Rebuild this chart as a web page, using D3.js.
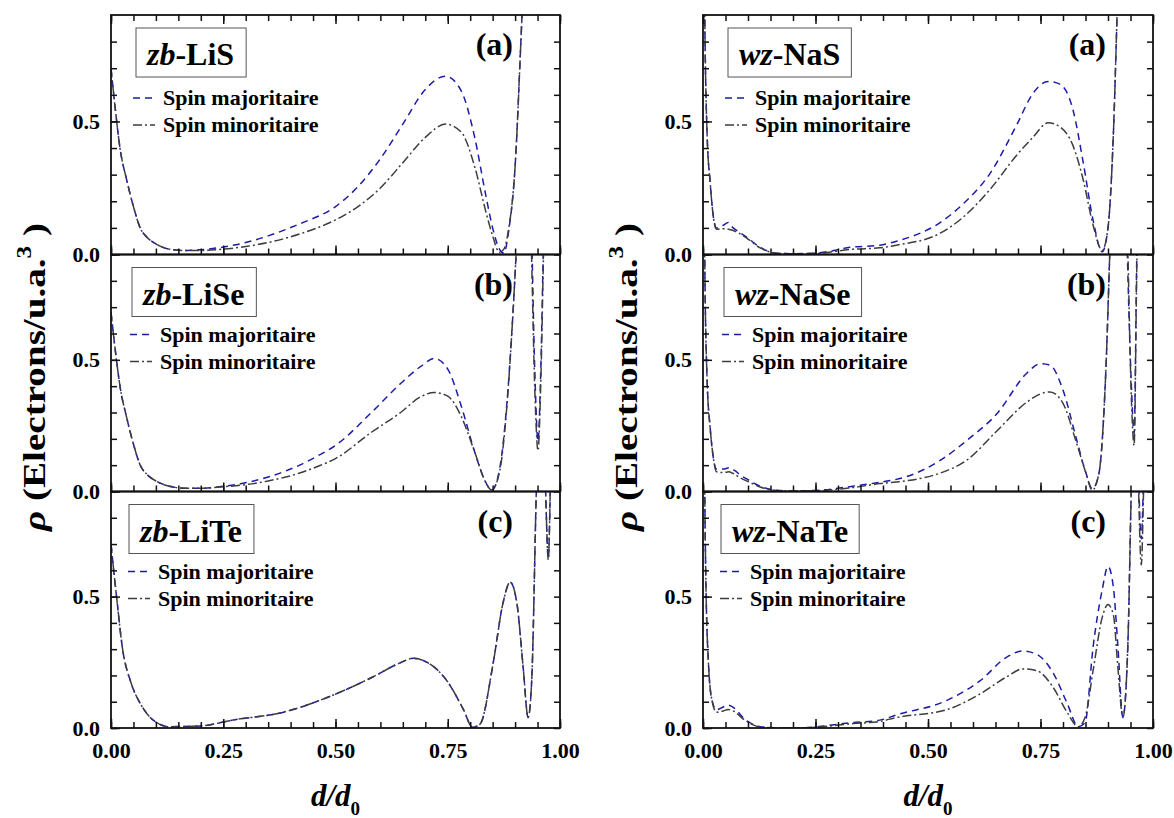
<!DOCTYPE html>
<html>
<head>
<meta charset="utf-8">
<script src="https://cdn.jsdelivr.net/npm/d3@7"></script>
<style>
  body { margin: 0; background: #fff; }
  text { font-family: "Liberation Serif", "Times New Roman", serif; font-weight: bold; }
</style>
</head>
<body>
<svg id="chart"></svg>
<script>
// ---- data ----
const xMinorTicks = [0, 0.05, 0.1, 0.15, 0.2, 0.25, 0.3, 0.35, 0.4, 0.45, 0.5, 0.55, 0.6, 0.65, 0.7, 0.75, 0.8, 0.85, 0.9, 0.95, 1.0];
const xMajorTicks = [0, 0.25, 0.5, 0.75, 1.0];
const yMinorTicks = [0, 0.1, 0.2, 0.3, 0.4, 0.5, 0.6, 0.7, 0.8];
const yMajorTicks = [0, 0.5];

const compounds = [["zb", "-LiS"], ["zb", "-LiSe"], ["zb", "-LiTe"], ["wz", "-NaS"], ["wz", "-NaSe"], ["wz", "-NaTe"]];
const panelLetters = ["(a)", "(b)", "(c)", "(a)", "(b)", "(c)"];
const seriesNames = ["Spin majoritaire", "Spin minoritaire"];

// zb-LiS
const lisX   = [0, 0.01, 0.02, 0.035, 0.05, 0.065, 0.08, 0.1, 0.13, 0.17, 0.2, 0.25, 0.3, 0.35, 0.42, 0.5, 0.55, 0.6, 0.65, 0.7, 0.745, 0.78, 0.81, 0.835, 0.85, 0.865, 0.875, 0.885, 0.9, 0.915, 0.93];
const lisMaj = [0.70, 0.54, 0.40, 0.28, 0.18, 0.10, 0.065, 0.04, 0.02, 0.015, 0.018, 0.028, 0.045, 0.07, 0.115, 0.18, 0.255, 0.36, 0.49, 0.62, 0.67, 0.615, 0.44, 0.22, 0.10, 0.02, 0.005, 0.08, 0.33, 0.88, 1.4];
const lisMin = [0.70, 0.54, 0.40, 0.28, 0.18, 0.10, 0.065, 0.04, 0.02, 0.015, 0.015, 0.02, 0.03, 0.045, 0.077, 0.13, 0.18, 0.25, 0.345, 0.44, 0.49, 0.46, 0.33, 0.16, 0.07, 0.008, 0.02, 0.09, 0.33, 0.88, 1.4];
// zb-LiSe
const liseX   = [0, 0.01, 0.02, 0.035, 0.05, 0.065, 0.08, 0.1, 0.13, 0.17, 0.2, 0.25, 0.3, 0.35, 0.42, 0.46, 0.5, 0.58, 0.645, 0.69, 0.72, 0.75, 0.78, 0.81, 0.833, 0.848, 0.866, 0.881, 0.896, 0.908, 0.92, 0.935, 0.944, 0.951, 0.957, 0.964, 0.975];
const liseMaj = [0.68, 0.53, 0.40, 0.28, 0.18, 0.10, 0.065, 0.04, 0.02, 0.012, 0.012, 0.02, 0.033, 0.055, 0.1, 0.135, 0.175, 0.30, 0.41, 0.475, 0.505, 0.465, 0.325, 0.15, 0.04, 0.005, 0.09, 0.32, 0.70, 1.1, 1.5, 1.1, 0.45, 0.19, 0.45, 1.0, 1.5];
const liseMin = [0.68, 0.53, 0.40, 0.28, 0.18, 0.10, 0.065, 0.04, 0.02, 0.012, 0.012, 0.018, 0.026, 0.04, 0.07, 0.095, 0.125, 0.225, 0.30, 0.36, 0.376, 0.362, 0.285, 0.15, 0.04, 0.006, 0.08, 0.31, 0.70, 1.1, 1.5, 1.0, 0.38, 0.155, 0.40, 0.95, 1.5];
// zb-LiTe
const liteX   = [0, 0.006, 0.013, 0.025, 0.045, 0.065, 0.094, 0.13, 0.2, 0.27, 0.384, 0.48, 0.584, 0.64, 0.673, 0.704, 0.748, 0.785, 0.805, 0.822, 0.851, 0.873, 0.889, 0.904, 0.918, 0.929, 0.937, 0.948, 0.958, 0.967, 0.974, 0.979, 0.986];
const liteMaj = [0.70, 0.60, 0.49, 0.31, 0.17, 0.094, 0.03, 0.005, 0.008, 0.03, 0.06, 0.115, 0.195, 0.245, 0.265, 0.25, 0.18, 0.07, 0.003, 0.015, 0.245, 0.475, 0.555, 0.475, 0.23, 0.04, 0.18, 0.95, 1.4, 0.95, 0.645, 0.95, 1.4];
const liteMin = [0.70, 0.60, 0.49, 0.31, 0.17, 0.094, 0.03, 0.005, 0.008, 0.03, 0.06, 0.115, 0.195, 0.245, 0.265, 0.25, 0.18, 0.07, 0.003, 0.015, 0.245, 0.475, 0.555, 0.475, 0.23, 0.04, 0.18, 0.95, 1.4, 0.95, 0.64, 0.95, 1.4];
// wz-NaS
const nasX   = [0.002, 0.005, 0.009, 0.016, 0.022, 0.03, 0.045, 0.056, 0.067, 0.08, 0.097, 0.127, 0.163, 0.2, 0.25, 0.333, 0.393, 0.43, 0.527, 0.578, 0.638, 0.698, 0.733, 0.767, 0.793, 0.822, 0.845, 0.867, 0.887, 0.90, 0.912, 0.922, 0.935];
const nasMaj = [1.2, 0.75, 0.457, 0.27, 0.155, 0.10, 0.11, 0.12, 0.10, 0.085, 0.065, 0.027, 0.005, 0.003, 0.005, 0.028, 0.035, 0.05, 0.12, 0.19, 0.305, 0.49, 0.605, 0.65, 0.64, 0.545, 0.345, 0.128, 0.01, 0.1, 0.455, 1.0, 1.6];
const nasMin = [1.2, 0.75, 0.457, 0.27, 0.155, 0.095, 0.097, 0.095, 0.09, 0.08, 0.062, 0.025, 0.005, 0.003, 0.004, 0.02, 0.025, 0.035, 0.08, 0.14, 0.245, 0.375, 0.44, 0.495, 0.48, 0.41, 0.28, 0.11, 0.015, 0.1, 0.455, 1.0, 1.6];
// wz-NaSe
const naseX   = [0.002, 0.005, 0.009, 0.016, 0.022, 0.03, 0.045, 0.058, 0.07, 0.085, 0.1, 0.127, 0.163, 0.2, 0.25, 0.333, 0.393, 0.45, 0.527, 0.587, 0.653, 0.72, 0.749, 0.771, 0.80, 0.829, 0.851, 0.865, 0.88, 0.895, 0.906, 0.92, 0.935, 0.943, 0.952, 0.958, 0.964, 0.972];
const naseMaj = [1.2, 0.72, 0.43, 0.24, 0.14, 0.085, 0.085, 0.09, 0.08, 0.06, 0.045, 0.02, 0.005, 0.002, 0.004, 0.02, 0.035, 0.055, 0.118, 0.195, 0.295, 0.45, 0.485, 0.48, 0.385, 0.205, 0.07, 0.01, 0.07, 0.45, 1.0, 1.5, 1.5, 0.9, 0.4, 0.22, 0.9, 1.5];
const naseMin = [1.2, 0.72, 0.43, 0.24, 0.14, 0.075, 0.072, 0.075, 0.065, 0.05, 0.038, 0.017, 0.004, 0.002, 0.003, 0.015, 0.03, 0.04, 0.07, 0.12, 0.23, 0.34, 0.37, 0.378, 0.335, 0.19, 0.07, 0.005, 0.07, 0.45, 1.0, 1.5, 1.5, 1.0, 0.35, 0.175, 0.85, 1.5];
// wz-NaTe
const nateX   = [0.002, 0.006, 0.012, 0.02, 0.03, 0.045, 0.056, 0.07, 0.089, 0.11, 0.127, 0.16, 0.215, 0.27, 0.327, 0.393, 0.43, 0.542, 0.616, 0.675, 0.711, 0.742, 0.778, 0.809, 0.834, 0.849, 0.867, 0.887, 0.90, 0.912, 0.922, 0.933, 0.944, 0.953, 0.962, 0.968, 0.974, 0.979, 0.985];
const nateMaj = [1.2, 0.6, 0.25, 0.105, 0.07, 0.08, 0.087, 0.075, 0.04, 0.015, 0.005, 0.001, 0.0, 0.008, 0.02, 0.03, 0.05, 0.105, 0.18, 0.27, 0.293, 0.28, 0.21, 0.095, 0.005, 0.02, 0.31, 0.525, 0.615, 0.535, 0.31, 0.04, 0.31, 1.0, 1.4, 0.95, 0.72, 0.95, 1.4];
const nateMin = [1.2, 0.6, 0.25, 0.105, 0.06, 0.065, 0.07, 0.062, 0.035, 0.013, 0.004, 0.001, 0.0, 0.006, 0.016, 0.025, 0.04, 0.07, 0.13, 0.195, 0.225, 0.218, 0.155, 0.06, 0.005, 0.04, 0.22, 0.42, 0.47, 0.43, 0.23, 0.04, 0.31, 1.0, 1.4, 0.9, 0.62, 0.9, 1.4];

const panelX   = [lisX, liseX, liteX, nasX, naseX, nateX];
const panelMaj = [lisMaj, liseMaj, liteMaj, nasMaj, naseMaj, nateMaj];
const panelMin = [lisMin, liseMin, liteMin, nasMin, naseMin, nateMin];

// ---- layout ----
const W = 1174, H = 818;
const colX = [[111, 560], [703, 1153]];
const rowY = [15, 254.5, 491.5, 728];
const boxOffset = [25, 21, 18];     // title box left offset, by row
const legendOffset = [22, 19, 17];  // legend sample left offset, by row
const legendTop = [83, 80, 80];
const majColor = "#1c1ca8", minColor = "#3d3d3d";
const majDash = "7,5", minDash = "9,3,2,3";

const svg = d3.select("#chart").attr("width", W).attr("height", H)
    .style("background", "#fff");

const fixFont = g => g.attr("font-family", null).attr("font-size", null);
const tickStyle = sel => sel.call(s => s.select(".domain").remove())
    .call(s => s.selectAll(".tick line").attr("stroke", "#111").attr("stroke-width", 1.5));

for (let c = 0; c < 2; c++) {
    for (let r = 0; r < 3; r++) {
        const k = c * 3 + r;
        const [x0, x1] = colX[c];
        const yTop = rowY[r], yBot = rowY[r + 1];

        const x = d3.scaleLinear().domain([0, 1]).range([x0, x1]);
        const y = d3.scaleLinear().domain([0, 0.9]).range([yBot, yTop]);

        const g = svg.append("g");

        // clip
        const clipId = "clip" + k;
        svg.append("clipPath").attr("id", clipId)
            .append("rect").attr("x", x0).attr("y", yTop).attr("width", x1 - x0).attr("height", yBot - yTop);

        const line = d3.line()
            .x(d => x(d[0]))
            .y(d => y(d[1]))
            .curve(d3.curveMonotoneX);

        const xs = panelX[k];
        const majPts = xs.map((v, i) => [v, panelMaj[k][i]]);
        const minPts = xs.map((v, i) => [v, panelMin[k][i]]);

        const curves = g.append("g").attr("clip-path", `url(#${clipId})`);
        curves.append("path").datum(majPts)
            .attr("d", line)
            .attr("fill", "none")
            .attr("stroke", majColor)
            .attr("stroke-width", 1.5)
            .attr("stroke-dasharray", majDash);
        curves.append("path").datum(minPts)
            .attr("d", line)
            .attr("fill", "none")
            .attr("stroke", minColor)
            .attr("stroke-width", 1.5)
            .attr("stroke-dasharray", minDash);

        // ticks: bottom edge (pointing up)
        g.append("g").attr("transform", `translate(0,${yBot})`)
            .call(d3.axisTop(x).tickValues(xMinorTicks).tickSize(6).tickFormat(""))
            .call(tickStyle);
        g.append("g").attr("transform", `translate(0,${yBot})`)
            .call(d3.axisTop(x).tickValues(xMajorTicks).tickSize(9).tickFormat(""))
            .call(tickStyle);
        if (r === 0) {
            g.append("g").attr("transform", `translate(0,${yTop})`)
                .call(d3.axisBottom(x).tickValues(xMinorTicks).tickSize(6).tickFormat(""))
                .call(tickStyle);
            g.append("g").attr("transform", `translate(0,${yTop})`)
                .call(d3.axisBottom(x).tickValues(xMajorTicks).tickSize(9).tickFormat(""))
                .call(tickStyle);
        }
        // left and right edges (pointing inward)
        g.append("g").attr("transform", `translate(${x0},0)`)
            .call(d3.axisRight(y).tickValues(yMinorTicks).tickSize(6).tickFormat(""))
            .call(tickStyle);
        g.append("g").attr("transform", `translate(${x0},0)`)
            .call(d3.axisRight(y).tickValues(yMajorTicks).tickSize(9).tickFormat(""))
            .call(tickStyle);
        g.append("g").attr("transform", `translate(${x1},0)`)
            .call(d3.axisLeft(y).tickValues(yMinorTicks).tickSize(6).tickFormat(""))
            .call(tickStyle);

        // y tick labels
        g.append("g").attr("transform", `translate(${x0},0)`)
            .call(d3.axisLeft(y).tickValues(yMajorTicks).tickSize(0).tickPadding(11).tickFormat(d3.format(".1f")))
            .call(fixFont)
            .call(s => s.select(".domain").remove())
            .call(s => s.selectAll("text").attr("font-size", 22).attr("fill", "#000"));

        // x tick labels on the bottom row
        if (r === 2) {
            g.append("g").attr("transform", `translate(0,${yBot})`)
                .call(d3.axisBottom(x).tickValues(xMajorTicks).tickSize(0).tickPadding(14).tickFormat(d3.format(".2f")))
                .call(fixFont)
                .call(s => s.select(".domain").remove())
                .call(s => s.selectAll("text").attr("font-size", 22).attr("fill", "#000"));
        }

        // frame
        g.append("rect")
            .attr("x", x0).attr("y", yTop)
            .attr("width", x1 - x0).attr("height", yBot - yTop)
            .attr("fill", "none").attr("stroke", "#111").attr("stroke-width", 1.8);

        // title box
        const boxX = x0 + boxOffset[r], boxY = yTop + 13;
        const boxRect = g.append("rect");
        const title = g.append("text")
            .attr("x", boxX + 11).attr("y", boxY + 37)
            .attr("font-size", 32);
        title.append("tspan").attr("font-style", "italic").text(compounds[k][0]);
        title.append("tspan").text(compounds[k][1]);
        const bb = title.node().getBBox();
        boxRect
            .attr("x", boxX).attr("y", boxY)
            .attr("width", bb.width + 22).attr("height", 49)
            .attr("fill", "#fff").attr("stroke", "#555").attr("stroke-width", 1);

        // panel letter
        g.append("text")
            .attr("x", x1 - 47).attr("y", yTop + 40)
            .attr("text-anchor", "end")
            .attr("font-size", 32)
            .text(panelLetters[k]);

        // legend
        const lx = x0 + legendOffset[r];
        [[majColor, majDash], [minColor, minDash]].forEach(([col, dash], i) => {
            const ly = yTop + legendTop[r] + i * 27;
            g.append("line")
                .attr("x1", lx).attr("x2", lx + 22)
                .attr("y1", ly).attr("y2", ly)
                .attr("stroke", col).attr("stroke-width", 1.5)
                .attr("stroke-dasharray", dash);
            g.append("text")
                .attr("x", lx + 30).attr("y", ly + 7)
                .attr("font-size", 22)
                .text(seriesNames[i]);
        });
    }

    // axis titles for the column
    const [x0, x1] = colX[c];
    const cx = (x0 + x1) / 2;
    const xl = svg.append("text")
        .attr("x", cx).attr("y", 806)
        .attr("text-anchor", "middle")
        .attr("font-size", 31);
    xl.append("tspan").attr("font-style", "italic").text("d/d");
    xl.append("tspan").attr("font-size", 19).attr("dy", 9).text("0");

    const yl = svg.append("text")
        .attr("transform", `translate(${x0 - 66},377) rotate(-90)`)
        .attr("text-anchor", "middle")
        .attr("font-size", 31)
        .attr("textLength", 308)
        .attr("lengthAdjust", "spacingAndGlyphs");
    yl.append("tspan").attr("font-style", "italic").text("ρ");
    yl.append("tspan").text(" (Electrons/u.a.");
    yl.append("tspan").attr("font-size", 20).attr("dy", -14).text("3");
    yl.append("tspan").attr("dy", 14).text(" )");
}
</script>
</body>
</html>
